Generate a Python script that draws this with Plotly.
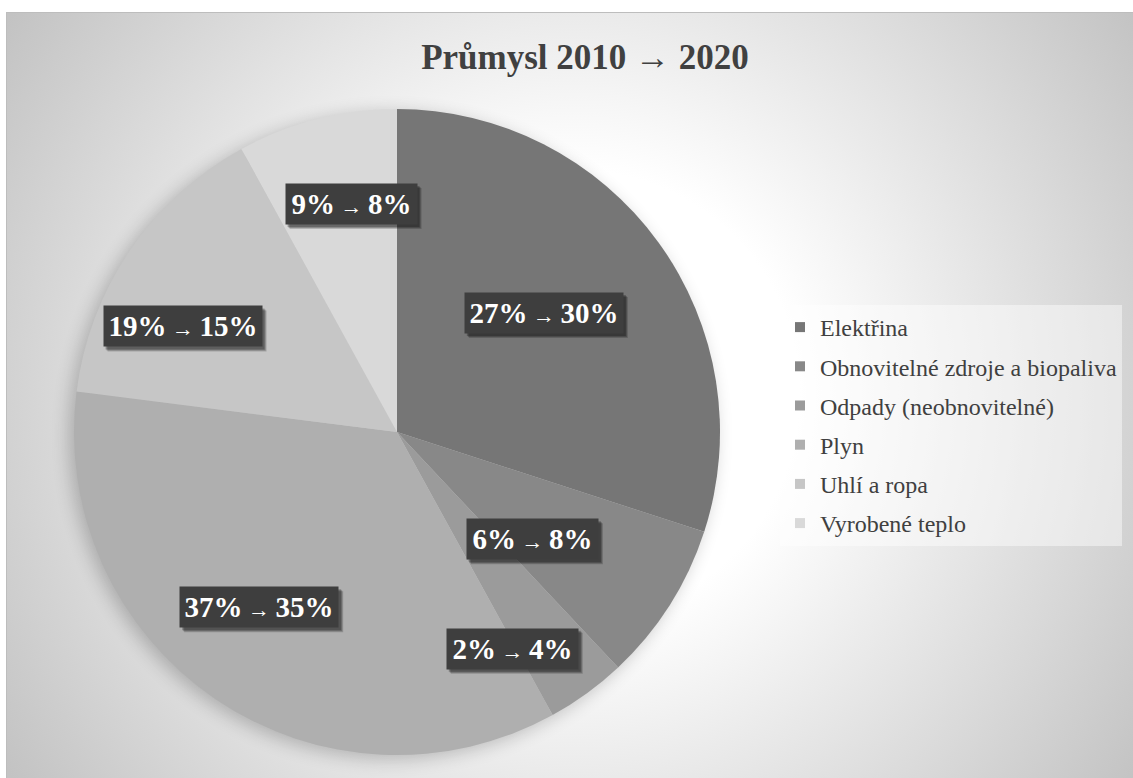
import base64
import math
import plotly.graph_objects as go

# --- data -------------------------------------------------------------
categories = [
    "Elektřina",
    "Obnovitelné zdroje a biopaliva",
    "Odpady (neobnovitelné)",
    "Plyn",
    "Uhlí a ropa",
    "Vyrobené teplo",
]
share_2010 = [27, 6, 2, 37, 19, 9]
share_2020 = [30, 8, 4, 35, 15, 8]
title_text = "Průmysl 2010 → 2020"

# --- style ------------------------------------------------------------
slice_colors = ["#767676", "#888888", "#9b9b9b", "#afafaf", "#c6c6c6", "#d9d9d9"]
SERIF = "Liberation Serif, Times New Roman, serif"
W, H = 1133, 778

# pie placement in pixels (centre and radius)
PIE_CX, PIE_CY, PIE_R = 397, 432, 323

# label placement: (fraction of radius, angular nudge in degrees)
label_place = [(0.585, -3), (0.535, 6), (0.76, 8), (0.69, 4), (0.74, -8), (0.72, 3)]

dom_x = [(PIE_CX - PIE_R) / W, (PIE_CX + PIE_R) / W]
dom_y = [1 - (PIE_CY + PIE_R) / H, 1 - (PIE_CY - PIE_R) / H]

fig = go.Figure()
fig.add_trace(
    go.Pie(
        labels=categories,
        values=share_2020,
        sort=False,
        direction="clockwise",
        rotation=0,
        marker=dict(colors=slice_colors, line=dict(width=0)),
        textinfo="none",
        hoverinfo="label+percent",
        domain=dict(x=dom_x, y=dom_y),
        showlegend=False,
    )
)

# legend entries, one group per category so the rows get extra spacing
for cat, col in zip(categories, slice_colors):
    fig.add_trace(go.Scatter(
        x=[None], y=[None], mode="markers", name=cat, legendgroup=cat,
        marker=dict(symbol="square", size=10, color=col),
        hoverinfo="skip",
    ))

# background: radial gradient, chart-area frame and a soft shadow under the pie
svg = f"""<svg xmlns='http://www.w3.org/2000/svg' width='{W}' height='{H}' viewBox='0 0 {W} {H}'>
<defs>
<radialGradient id='bg' gradientUnits='userSpaceOnUse' cx='575' cy='395' r='680'>
<stop offset='0' stop-color='#ffffff'/>
<stop offset='0.33' stop-color='#ffffff'/>
<stop offset='1' stop-color='#c3c3c3'/>
</radialGradient>
<filter id='soft' x='-20%' y='-20%' width='140%' height='140%'>
<feGaussianBlur stdDeviation='9'/>
</filter>
</defs>
<rect width='{W}' height='{H}' fill='#ffffff'/>
<rect x='6.5' y='12.5' width='{W}' height='{H}' fill='url(#bg)' stroke='#bdbdbd' stroke-width='1'/>
<circle cx='{PIE_CX - 5}' cy='{PIE_CY + 4}' r='{PIE_R}' fill='#000000' opacity='0.22' filter='url(#soft)'/>
</svg>"""
bg_uri = "data:image/svg+xml;base64," + base64.b64encode(svg.encode("utf-8")).decode("ascii")

# data labels "2010% → 2020%" at each slice
total = sum(share_2020)
annotations = []
shapes = []
cum = 0
for cat, a, b, (frac, nudge) in zip(categories, share_2010, share_2020, label_place):
    mid = (cum + b / 2) / total * 360 + nudge
    cum += b
    px = PIE_CX + frac * PIE_R * math.sin(math.radians(mid))
    py = PIE_CY - frac * PIE_R * math.cos(math.radians(mid))
    xp, yp = px / W, 1 - py / H
    ndig = len(str(a)) + len(str(b))
    bw = 104 + 13.5 * ndig
    bh = 40
    # drop shadow behind the label box
    for off, op in [(4, 0.18), (3, 0.22), (2, 0.25)]:
        shapes.append(dict(
            type="rect", xref="paper", yref="paper", xsizemode="pixel", ysizemode="pixel",
            xanchor=xp, yanchor=yp,
            x0=-bw / 2 + off, x1=bw / 2 + off + 1, y0=-bh / 2 - off - 1, y1=bh / 2 - off,
            fillcolor="black", opacity=op, line=dict(width=0), layer="above",
        ))
    annotations.append(dict(
        x=xp, y=yp, xref="paper", yref="paper", showarrow=False,
        xanchor="center", yanchor="middle",
        text=f"{a}%<span style='font-weight:normal;font-size:22px'> → </span>{b}%",
        font=dict(family=SERIF, size=29, color="white", weight="bold"),
        bgcolor="#3e3e3e", width=bw, height=bh, borderpad=0,
    ))

fig.update_layout(
    width=W,
    height=H,
    margin=dict(l=0, r=0, t=0, b=0),
    paper_bgcolor="white",
    plot_bgcolor="rgba(0,0,0,0)",
    xaxis=dict(visible=False),
    yaxis=dict(visible=False),
    images=[dict(
        source=bg_uri, xref="paper", yref="paper", x=0, y=1, sizex=1, sizey=1,
        xanchor="left", yanchor="top", sizing="stretch", layer="below",
    )],
    title=dict(
        text=title_text, x=585 / W, xanchor="center", y=1 - 57 / H, yanchor="middle",
        font=dict(family=SERIF, size=35, color="#404040", weight="bold"),
    ),
    showlegend=True,
    legend=dict(
        x=780 / W, xanchor="left", y=1 - 305 / H, yanchor="top",
        bgcolor="rgba(255,255,255,0.45)",
        font=dict(family=SERIF, size=24, color="#404040"),
        itemwidth=30,
        traceorder="grouped",
        tracegroupgap=5,
    ),
    shapes=shapes,
    annotations=annotations,
)

fig.write_html("out.html")
